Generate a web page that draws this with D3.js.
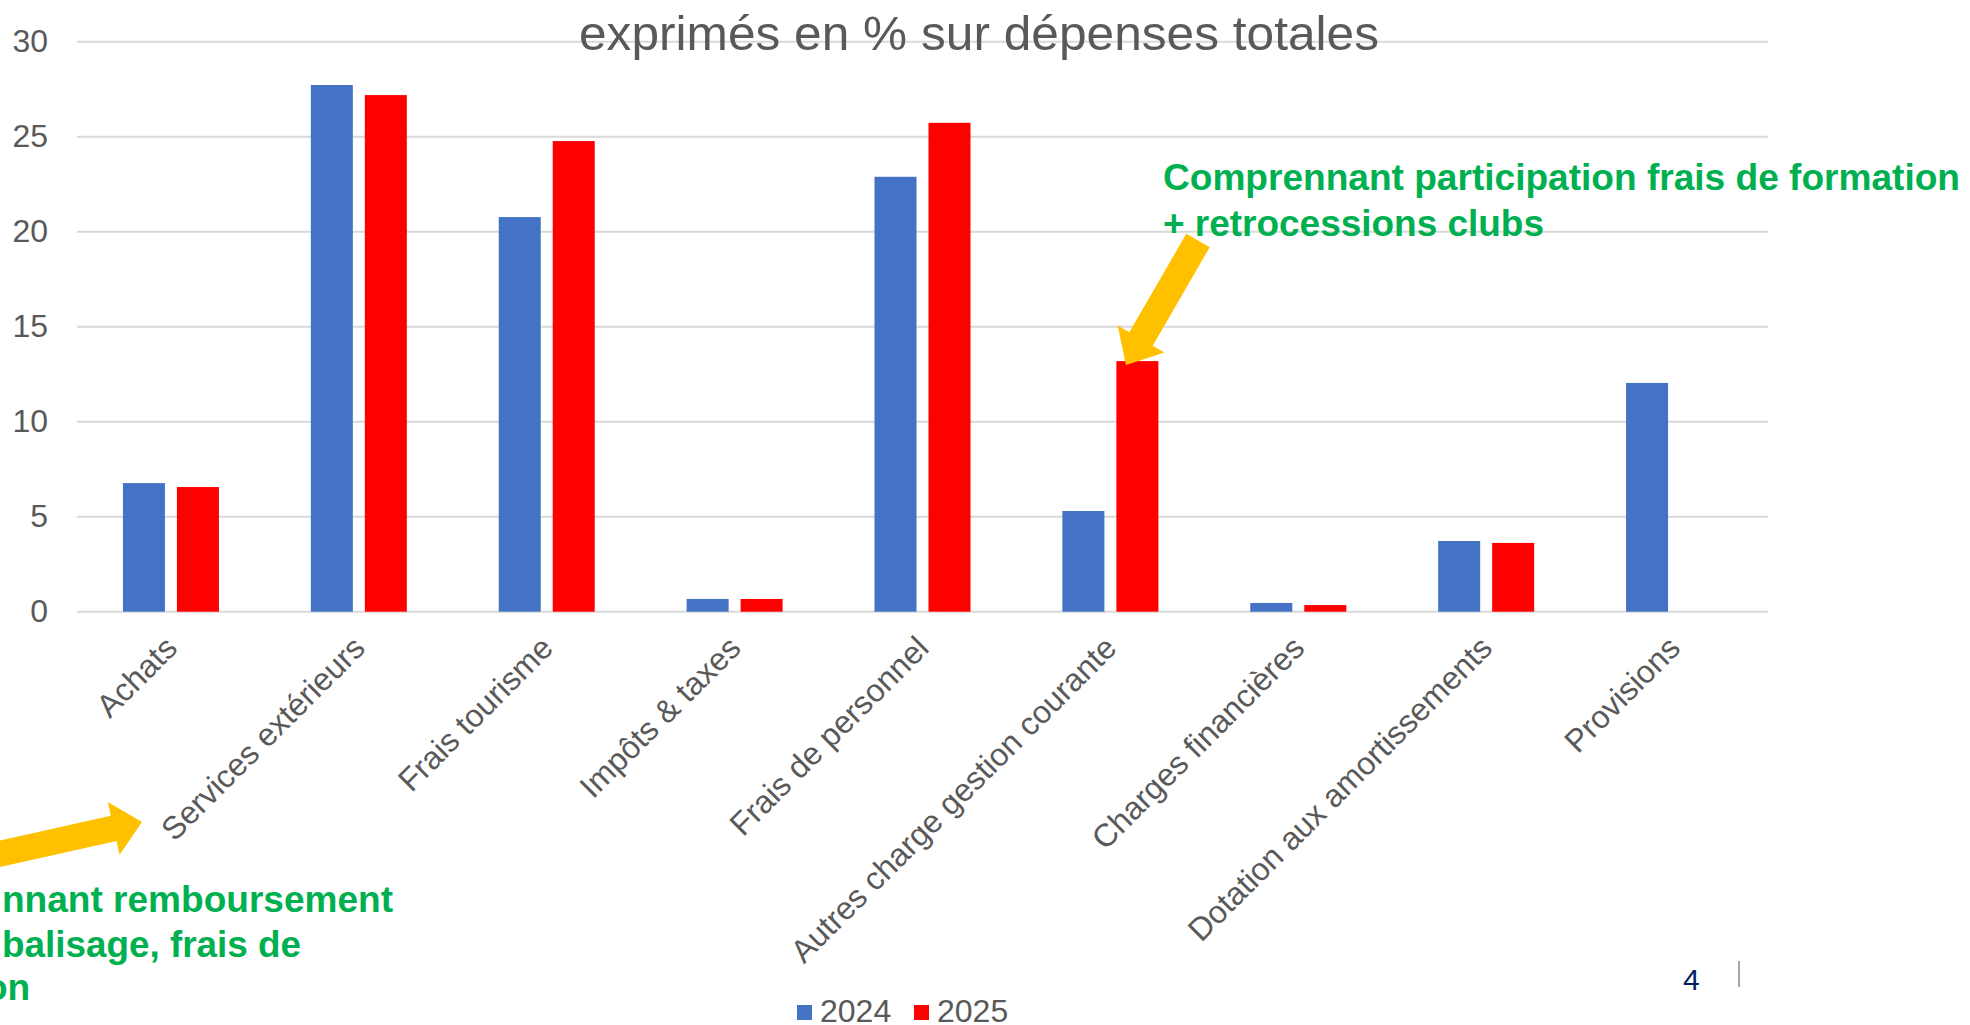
<!DOCTYPE html>
<html>
<head>
    <meta charset="utf-8">
    <title>Dépenses en %</title>
    <script src="https://d3js.org/d3.v7.min.js"></script>
    <style>
        body {
            margin: 0;
            background: #fff;
        }

        .tick-label,
        .cat-label,
        .legend-label {
            font: 32px "Liberation Sans", Arial, sans-serif;
            fill: #595959;
        }

        .title {
            font: 49px "Liberation Sans", Arial, sans-serif;
            fill: #595959;
        }

        .note {
            font-family: "Liberation Sans Narrow", "Arial Narrow", "Liberation Sans", sans-serif;
            font-weight: bold;
            font-size: 37px;
            fill: #00B050;
        }
    </style>
</head>

<body>
    <svg width="1970" height="1025"></svg>
    <script>
        // valeurs
        var categories = ["Achats", "Services extérieurs", "Frais tourisme", "Impôts & taxes", "Frais de personnel",
            "Autres charge gestion courante", "Charges financières", "Dotation aux amortissements", "Provisions"];
        var series = ["2024", "2025"];
        var values2024 = [6.77, 27.72, 20.77, 0.67, 22.89, 5.30, 0.46, 3.72, 12.04];
        var values2025 = [6.56, 27.19, 24.77, 0.67, 25.73, 13.19, 0.35, 3.62, null];
        var yTicks = [0, 5, 10, 15, 20, 25, 30];
        var colors = ["#4472C4", "#FF0000"];

        var svg = d3.select("svg");

        var plotLeft = 77, plotRight = 1768, plotTop = 41.7, plotBottom = 611.7;

        var x0 = d3.scaleBand()
            .domain(categories)
            .range([plotLeft, plotRight])
            .padding(0);

        var groupW = 96;
        var x1 = d3.scaleBand()
            .domain(series)
            .range([0, groupW])
            .paddingInner(0.222);

        var y = d3.scaleLinear()
            .domain([0, 30])
            .range([plotBottom, plotTop]);

        // gridlines
        svg.append("g")
            .selectAll("line")
            .data(yTicks)
            .enter().append("line")
            .attr("x1", plotLeft)
            .attr("x2", plotRight)
            .attr("y1", function (d) { return y(d); })
            .attr("y2", function (d) { return y(d); })
            .attr("stroke", "#D9D9D9")
            .attr("stroke-width", 2);

        // y axis labels
        var yAxis = d3.axisLeft(y).tickValues(yTicks).tickSize(0).tickPadding(0);
        var yg = svg.append("g")
            .attr("transform", "translate(48,0)")
            .call(yAxis);
        yg.select(".domain").remove();
        yg.attr("font-size", null).attr("font-family", null);
        yg.selectAll("text")
            .attr("class", "tick-label")
            .attr("fill", null);

        // bars
        var rows = categories.map(function (c, i) {
            return { cat: c, vals: [values2024[i], values2025[i]] };
        });

        var groups = svg.append("g")
            .selectAll("g")
            .data(rows)
            .enter().append("g")
            .attr("transform", function (d) {
                return "translate(" + (x0(d.cat) + (x0.bandwidth() - groupW) / 2) + ",0)";
            });

        groups.selectAll("rect")
            .data(function (d) {
                return series.map(function (s, j) { return { s: s, v: d.vals[j], j: j }; })
                    .filter(function (e) { return e.v != null; });
            })
            .enter().append("rect")
            .attr("x", function (d) { return x1(d.s); })
            .attr("width", x1.bandwidth())
            .attr("y", function (d) { return y(d.v); })
            .attr("height", function (d) { return y(0) - y(d.v); })
            .attr("fill", function (d) { return colors[d.j]; });

        // category labels, rotated
        svg.append("g")
            .selectAll("text")
            .data(categories)
            .enter().append("text")
            .attr("class", "cat-label")
            .attr("text-anchor", "end")
            .attr("transform", function (d) {
                return "translate(" + (x0(d) + x0.bandwidth() / 2 + 8) + ",650) rotate(-45)";
            })
            .text(function (d) { return d; });

        // title (drawn after the gridlines, it sits on the 30 line)
        svg.append("text")
            .attr("class", "title")
            .attr("x", 579)
            .attr("y", 50)
            .attr("textLength", 800)
            .attr("lengthAdjust", "spacingAndGlyphs")
            .text("exprimés en % sur dépenses totales");

        // legend
        var legend = svg.append("g")
            .selectAll("g")
            .data(series)
            .enter().append("g")
            .attr("transform", function (d, i) { return "translate(" + (797 + i * 117) + ",0)"; });
        legend.append("rect")
            .attr("y", 1005)
            .attr("width", 15)
            .attr("height", 15)
            .attr("fill", function (d, i) { return colors[i]; });
        legend.append("text")
            .attr("class", "legend-label")
            .attr("x", 23)
            .attr("y", 1022)
            .text(function (d) { return d; });

        // yellow block arrows
        function arrow(tail, tip, shaftW, headW, headL) {
            var dx = tip[0] - tail[0], dy = tip[1] - tail[1];
            var len = Math.sqrt(dx * dx + dy * dy);
            var ux = dx / len, uy = dy / len, px = -uy, py = ux;
            var bx = tip[0] - ux * headL, by = tip[1] - uy * headL;
            var s = shaftW / 2, h = headW / 2;
            return [
                [tail[0] + px * s, tail[1] + py * s],
                [bx + px * s, by + py * s],
                [bx + px * h, by + py * h],
                tip,
                [bx - px * h, by - py * h],
                [bx - px * s, by - py * s],
                [tail[0] - px * s, tail[1] - py * s]
            ];
        }

        svg.append("polygon")
            .attr("points", arrow([1198, 240.5], [1126, 365], 27, 54, 30).join(" "))
            .attr("fill", "#FFC000");

        svg.append("polygon")
            .attr("points", arrow([-10, 856], [142, 822], 26, 54, 29).join(" "))
            .attr("fill", "#FFC000");

        // green notes
        svg.append("text").attr("class", "note")
            .attr("x", 1163).attr("y", 190)
            .attr("textLength", 797).attr("lengthAdjust", "spacingAndGlyphs")
            .text("Comprennant participation frais de formation");
        svg.append("text").attr("class", "note")
            .attr("x", 1163).attr("y", 236)
            .attr("textLength", 381).attr("lengthAdjust", "spacingAndGlyphs")
            .text("+ retrocessions clubs");

        svg.append("text").attr("class", "note")
            .attr("x", 2).attr("y", 912)
            .attr("textLength", 391).attr("lengthAdjust", "spacingAndGlyphs")
            .text("nnant remboursement");
        svg.append("text").attr("class", "note")
            .attr("x", 2).attr("y", 957)
            .attr("textLength", 299).attr("lengthAdjust", "spacingAndGlyphs")
            .text("balisage, frais de");
        svg.append("text").attr("class", "note")
            .attr("x", -15).attr("y", 1000)
            .text("on");

        // page number and small mark
        svg.append("text")
            .attr("x", 1683)
            .attr("y", 990)
            .attr("font-family", "Liberation Sans Narrow, Liberation Sans, sans-serif")
            .attr("font-size", 30)
            .attr("fill", "#002060")
            .text("4");
        svg.append("line")
            .attr("x1", 1739).attr("x2", 1739)
            .attr("y1", 961).attr("y2", 987)
            .attr("stroke", "#A6A6A6")
            .attr("stroke-width", 2);
    </script>
</body>

</html>
